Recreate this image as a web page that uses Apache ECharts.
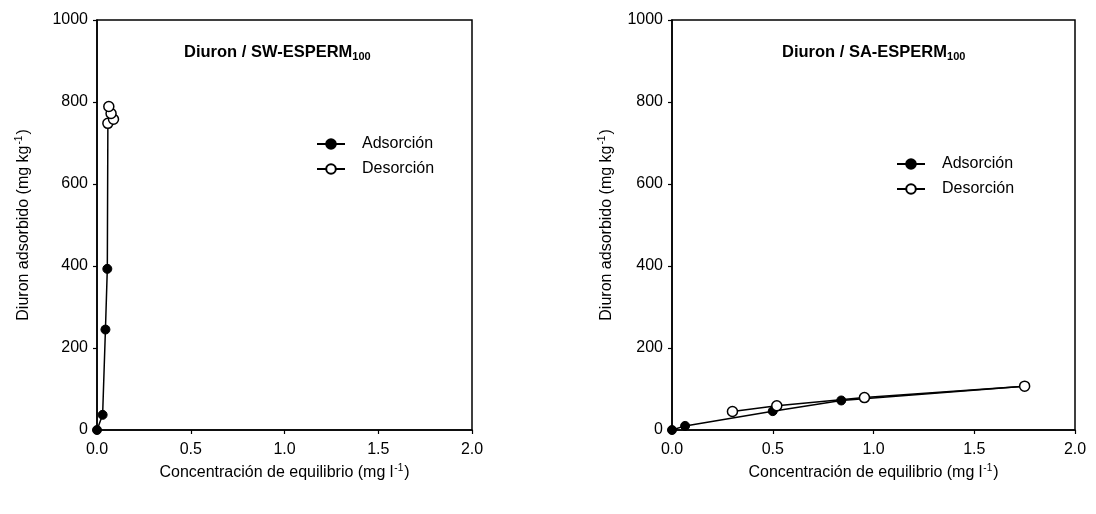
<!DOCTYPE html>
<html>
<head>
<meta charset="utf-8">
<script src="https://cdn.jsdelivr.net/npm/echarts@6/dist/echarts.min.js"></script>
<style>
html,body{margin:0;padding:0;background:#fff;}
#chart{width:1096px;height:514px;}
</style>
</head>
<body>
<div id="chart"></div>
<script>
// ---- Data ----
const panelTitles = ['Diuron / SW-ESPERM', 'Diuron / SA-ESPERM'];
const titleSubscript = '100';
const seriesNames = ['Adsorción', 'Desorción'];
const xTickValues = [0, 0.5, 1.0, 1.5, 2.0];
const yTickValues = [0, 200, 400, 600, 800, 1000];

// Panel 1: SW-ESPERM100  [concentration mg/l, adsorbed mg/kg]
const swAdsorcion = [[0, 0], [0.03, 37], [0.045, 245], [0.055, 393], [0.058, 748]];
const swDesorcion = [[0.058, 748], [0.088, 758], [0.075, 772], [0.063, 789]];

// Panel 2: SA-ESPERM100
const saAdsorcion = [[0, 0], [0.065, 10], [0.5, 46], [0.84, 72], [1.75, 107]];
const saDesorcion = [[1.75, 107], [0.955, 79], [0.52, 59], [0.30, 45]];

const font = 'Liberation Sans, Arial, sans-serif';

const chart = echarts.init(document.getElementById('chart'));

function xAxis(gi) {
  return {
    type: 'value', gridIndex: gi, min: xTickValues[0], max: xTickValues[xTickValues.length - 1],
    interval: 0.5,
    axisLine: {lineStyle: {color: '#000', width: 1.5}},
    axisTick: {show: true, inside: false, length: 4, lineStyle: {color: '#000', width: 1.2}},
    splitLine: {show: false},
    axisLabel: {color: '#000', fontSize: 16, fontFamily: font, margin: 12, formatter: v => v.toFixed(1)},
    name: '{a|Concentración de equilibrio (mg l}{s|-1}{a|)}',
    nameLocation: 'middle', nameGap: 33,
    nameTextStyle: {
      rich: {
        a: {fontSize: 16, fontFamily: font, color: '#000', lineHeight: 20},
        s: {fontSize: 10, fontFamily: font, color: '#000', verticalAlign: 'top', lineHeight: 20, padding: [0, 1, 8, 1]}
      }
    }
  };
}
function yAxis(gi, gap) {
  return {
    type: 'value', gridIndex: gi, min: yTickValues[0], max: yTickValues[yTickValues.length - 1], interval: 200,
    axisLine: {show: true, lineStyle: {color: '#000', width: 1.5}},
    axisTick: {show: true, inside: false, length: 4, lineStyle: {color: '#000', width: 1.2}},
    splitLine: {show: false},
    axisLabel: {color: '#000', fontSize: 16, fontFamily: font, margin: 9, formatter: v => String(v)},
    name: '{a|Diuron adsorbido (mg kg}{s|-1}{a|)}',
    nameLocation: 'middle', nameGap: gap, nameRotate: 90,
    nameTextStyle: {
      rich: {
        a: {fontSize: 16, fontFamily: font, color: '#000', lineHeight: 20},
        s: {fontSize: 10, fontFamily: font, color: '#000', verticalAlign: 'top', lineHeight: 20, padding: [0, 1, 8, 1]}
      }
    }
  };
}
function adsSeries(gi, data) {
  return {
    name: seriesNames[0], type: 'line', xAxisIndex: gi, yAxisIndex: gi, data: data,
    symbol: 'circle', symbolSize: 9, showAllSymbol: true,
    lineStyle: {color: '#000', width: 1.5},
    itemStyle: {color: '#000', borderColor: '#000', borderWidth: 1},
    z: 3, animation: false
  };
}
function desSeries(gi, data) {
  return {
    name: seriesNames[1], type: 'line', xAxisIndex: gi, yAxisIndex: gi, data: data,
    symbol: 'circle', symbolSize: 10, showAllSymbol: true,
    lineStyle: {color: '#000', width: 1.5},
    itemStyle: {color: '#fff', borderColor: '#000', borderWidth: 1.5},
    z: 4, animation: false
  };
}
function titleComp(i, left, top) {
  return {
    text: '{b|' + panelTitles[i] + '}{s|' + titleSubscript + '}',
    left: left, top: top,
    textStyle: {
      rich: {
        b: {fontSize: 16.5, fontWeight: 'bold', fontFamily: font, color: '#000', lineHeight: 20},
        s: {fontSize: 11, fontWeight: 'bold', fontFamily: font, color: '#000', lineHeight: 20, verticalAlign: 'bottom', padding: [6, 0, 0, 0]}
      }
    }
  };
}
function legendComp(left, top) {
  return {
    data: seriesNames, left: left, top: top, orient: 'vertical',
    itemWidth: 28, itemHeight: 12, itemGap: 9,
    selectedMode: false,
    textStyle: {fontSize: 16, fontFamily: font, color: '#000', padding: [0, 0, 0, 12]}
  };
}

chart.setOption({
  animation: false,
  backgroundColor: '#fff',
  title: [titleComp(0, 179, 37), titleComp(1, 777, 37)],
  legend: [legendComp(311, 131), legendComp(891, 151)],
  grid: [
    {left: 97, top: 20, width: 375, height: 410, show: true, borderColor: '#000', borderWidth: 1.5, backgroundColor: 'transparent'},
    {left: 672, top: 20, width: 403, height: 410, show: true, borderColor: '#000', borderWidth: 1.5, backgroundColor: 'transparent'}
  ],
  xAxis: [xAxis(0), xAxis(1)],
  yAxis: [yAxis(0, 63), yAxis(1, 55)],
  series: [
    adsSeries(0, swAdsorcion), desSeries(0, swDesorcion),
    adsSeries(1, saAdsorcion), desSeries(1, saDesorcion)
  ]
});
</script>
</body>
</html>
